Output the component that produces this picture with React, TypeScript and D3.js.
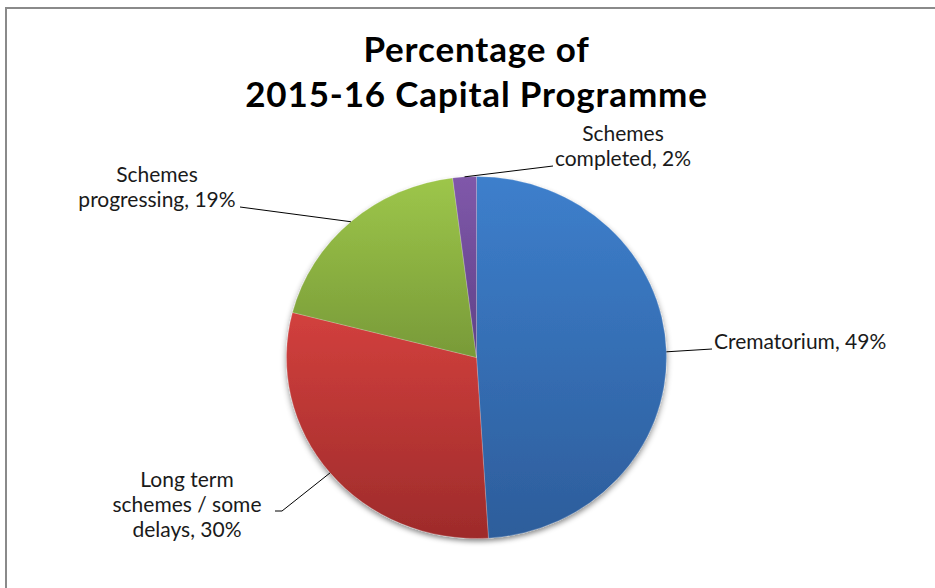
import * as d3 from "d3";
import { useEffect, useRef } from "react";

const categories = [
  "Crematorium",
  "Long term schemes / some delays",
  "Schemes progressing",
  "Schemes completed",
];
const values = [49, 30, 19, 2];
const titleLines = ["Percentage of", "2015-16 Capital Programme"];

// label text lines per slice (as written on the chart)
const labelLines = [
  ["Crematorium, 49%"],
  ["Long term", "schemes / some", "delays, 30%"],
  ["Schemes", "progressing, 19%"],
  ["Schemes", "completed, 2%"],
];

const gradients = [
  ["#3d7fcc", "#2d5d9b"],
  ["#d2403d", "#9e2b2b"],
  ["#9dc64a", "#789a38"],
  ["#8058aa", "#5f4187"],
];

// where labels sit and where the leader line meets them
const labelLayout = [
  { x: 714, y: 349, anchor: "start", end: [[712, 349]] },
  { x: 187, y: 487, anchor: "middle", end: [[282, 511], [275, 511]] },
  { x: 157, y: 182, anchor: "middle", end: [[240, 207]] },
  { x: 623, y: 141, anchor: "middle", end: [[553, 166]] },
];

export default function App() {
  const svgRef = useRef<SVGSVGElement>(null);

  useEffect(() => {
    document.body.style.margin = "0";
    if (!svgRef.current) return;
    const svg = d3.select(svgRef.current);
    svg.selectAll("*").remove();

    const width = 935;
    const height = 588;
    const cx = 476.5;
    const cy = 357.5;
    const rx = 190;
    const ry = 181;
    const font = "Lato, 'Noto Sans', sans-serif";

    svg.append("rect").attr("width", width).attr("height", height).attr("fill", "#fff");
    svg
      .append("rect")
      .attr("x", 6)
      .attr("y", 8)
      .attr("width", 1200)
      .attr("height", 1200)
      .attr("fill", "none")
      .attr("stroke", "#8a8a8a")
      .attr("stroke-width", 2);

    const defs = svg.append("defs");
    gradients.forEach((c, i) => {
      const lg = defs
        .append("linearGradient")
        .attr("id", `grad${i}`)
        .attr("x1", 0)
        .attr("y1", 0)
        .attr("x2", 0)
        .attr("y2", 1);
      lg.append("stop").attr("offset", "0%").attr("stop-color", c[0]);
      lg.append("stop").attr("offset", "100%").attr("stop-color", c[1]);
    });
    const shadow = defs
      .append("filter")
      .attr("id", "shadow")
      .attr("x", "-10%")
      .attr("y", "-10%")
      .attr("width", "120%")
      .attr("height", "125%");
    shadow
      .append("feDropShadow")
      .attr("dx", 0)
      .attr("dy", 3)
      .attr("stdDeviation", 3)
      .attr("flood-color", "#000")
      .attr("flood-opacity", 0.45);

    // Title
    svg
      .append("g")
      .selectAll("text")
      .data(titleLines)
      .enter()
      .append("text")
      .attr("x", cx)
      .attr("y", (_, i) => 62 + i * 45)
      .attr("text-anchor", "middle")
      .attr("font-family", font)
      .attr("font-weight", "bold")
      .attr("font-size", "35px")
      .attr("letter-spacing", "0.85px")
      .attr("fill", "#000")
      .text((d) => d);

    const pie = d3
      .pie<number>()
      .sort(null)
      .value((d) => d);
    const arcs = pie(values);
    const arc = d3.arc<d3.PieArcDatum<number>>().innerRadius(0).outerRadius(rx);

    const pieG = svg
      .append("g")
      .attr("transform", `translate(${cx},${cy}) scale(1,${ry / rx})`)
      .attr("filter", "url(#shadow)");

    pieG
      .selectAll("path")
      .data(arcs)
      .enter()
      .append("path")
      .attr("d", arc)
      .attr("fill", (_, i) => `url(#grad${i})`)
      .attr("stroke", "rgba(255,255,255,0.35)")
      .attr("stroke-width", 0.6);

    // Leader lines
    const lineGen = d3.line();
    arcs.forEach((a, i) => {
      const mid = (a.startAngle + a.endAngle) / 2;
      const start: [number, number] = [cx + rx * Math.sin(mid), cy - ry * Math.cos(mid)];
      const pts = [start, ...(labelLayout[i].end as [number, number][])];
      svg
        .append("path")
        .attr("d", lineGen(pts))
        .attr("fill", "none")
        .attr("stroke", "#000")
        .attr("stroke-width", 1);
    });

    // Labels
    labelLines.forEach((lines, i) => {
      const l = labelLayout[i];
      svg
        .append("g")
        .selectAll("text")
        .data(lines)
        .enter()
        .append("text")
        .attr("x", l.x)
        .attr("y", (_, j) => l.y + j * 25)
        .attr("text-anchor", l.anchor)
        .attr("font-family", font)
        .attr("font-size", "21px")
        .attr("fill", "#1a1a1a")
        .text((d) => d);
    });
  }, []);

  return <svg ref={svgRef} width={935} height={588} style={{ display: "block" }} />;
}
